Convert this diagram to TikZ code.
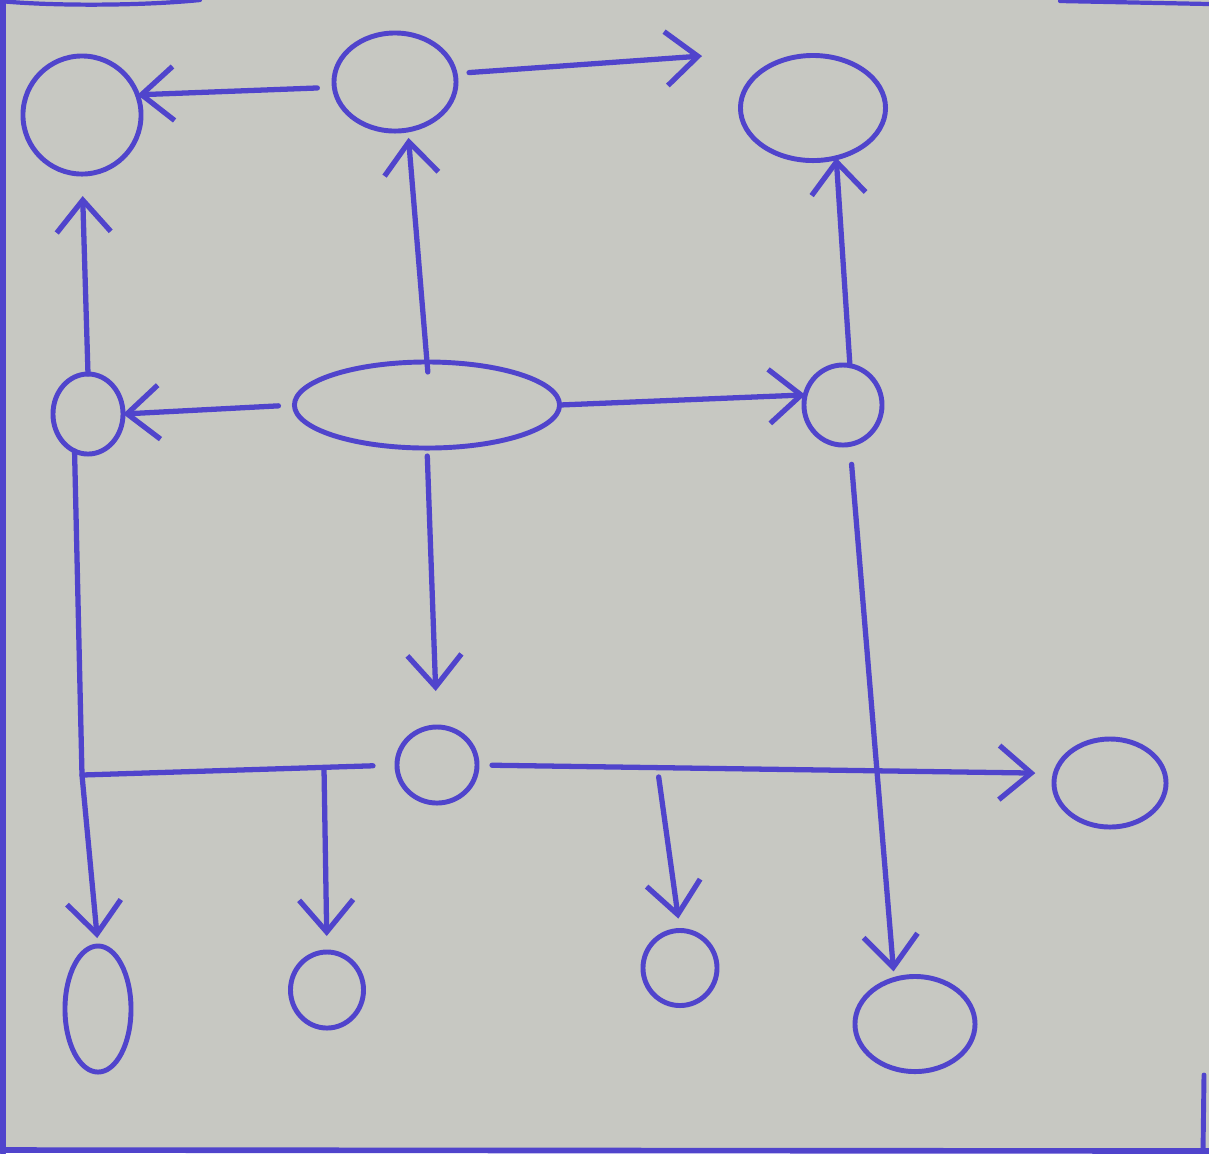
\documentclass[tikz,border=0pt]{standalone}
\usetikzlibrary{shapes.geometric,arrows.meta}
\definecolor{paper}{RGB}{199,200,194}
\definecolor{ink}{RGB}{80,68,204}
\begin{document}
\begin{tikzpicture}[x=0.01cm,y=-0.01cm,
  blob/.style={ellipse,draw=ink,line width=1.4pt,inner sep=0pt,outer sep=0pt},
  link/.style={draw=ink,line width=1.5pt,line cap=round,line join=round},
  arr/.style={link,-{Straight Barb[length=3.2mm,width=5.4mm,line width=1.5pt]}}]
% paper
\fill[paper] (0,0) rectangle (1209,1153);
\useasboundingbox (0,0) rectangle (1209,1153);
% frame drawn on the sheet
\draw[link,line width=1.6pt] (3,0) -- (3,1153);
\draw[link,line width=1.6pt] (0,1150) -- (1209,1151);
\draw[link,line width=1.4pt] (1204,1075) -- (1203,1153);
\draw[link,line width=1.2pt] (0,1) .. controls (50,6) and (140,6) .. (200,0);
\draw[link,line width=1.2pt] (1060,1) -- (1209,4);

% nodes
\node[blob,minimum width=11.8mm,minimum height=11.8mm] (TL) at (82,115) {};
\node[blob,minimum width=12.2mm,minimum height=9.8mm]  (TM) at (395,82) {};
\node[blob,minimum width=14.5mm,minimum height=10.5mm] (TR) at (813,108) {};
\node[blob,minimum width=7.0mm,minimum height=8.0mm]   (ML) at (88,414) {};
\node[blob,minimum width=26.5mm,minimum height=8.6mm]  (C)  at (427,405) {};
\node[blob,minimum width=7.8mm,minimum height=8.0mm]   (MR) at (843,405) {};
\node[blob,minimum width=8.0mm,minimum height=7.6mm]   (CC) at (437,765) {};
\node[blob,minimum width=11.2mm,minimum height=8.8mm]  (RR) at (1110,783) {};
\node[blob,minimum width=6.6mm,minimum height=12.6mm]  (B1) at (98,1009) {};
\node[blob,minimum width=7.3mm,minimum height=7.6mm]   (B2) at (327,990) {};
\node[blob,minimum width=7.4mm,minimum height=7.5mm]   (B3) at (680,968) {};
\node[blob,minimum width=12.0mm,minimum height=9.5mm]  (B4) at (915,1024) {};

% junctions and loose ends
\coordinate (tip) at (702,56);
\coordinate (J1) at (82,775);
\coordinate (J2) at (324,768);
\coordinate (J3) at (658,772);

% connectors
\draw[arr,shorten <=1.7mm] (TM.185) -- (TL.20);
\draw[arr,shorten <=1.4mm] (TM.8) -- (tip);
\draw[arr,shorten >=2.2mm] (ML.north) -- (TL.south);
\draw[arr,shorten <=-1mm,shorten >=0.8mm] (C.north) -- (TM.285);
\draw[arr,shorten <=1.6mm] (C.west) -- (ML.east);
\draw[arr] (C.east) -- (MR.165);
\draw[arr] (MR.80) -- (TR.295);
\draw[arr,shorten <=0.8mm,shorten >=3.6mm] (C.south) -- (CC.north);
\draw[arr,shorten <=2mm,shorten >=0.8mm] (MR.-80) -- (B4.115);
\draw[arr,shorten >=0.8mm] (ML.250) -- (J1) -- (B1.north);
\draw[link,shorten <=2.4mm] (CC.west) -- (J1);
\draw[arr,shorten >=1.6mm] (J2) -- (B2.north);
\draw[arr,shorten <=1.5mm,shorten >=2mm] (CC.east) -- (RR.170);
\draw[arr,shorten <=0.5mm,shorten >=1.2mm] (J3) -- (B3.north);
\end{tikzpicture}
\end{document}
